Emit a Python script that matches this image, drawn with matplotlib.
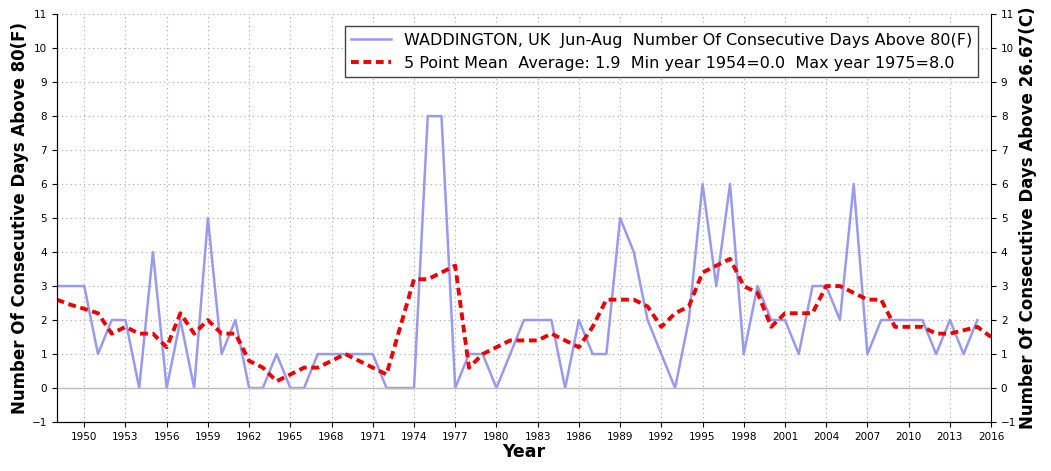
import matplotlib.pyplot as plt
import numpy as np

years = np.arange(1948, 2016)
days = [3, 3, 3, 1, 2, 2, 0, 4, 0, 2, 0, 5, 1, 2, 0, 0, 1, 0, 0, 1,
        1, 1, 1, 1, 0, 0, 0, 8, 8, 0, 1, 1, 0, 1, 2, 2, 2, 0, 2, 1,
        1, 5, 4, 2, 1, 0, 2, 6, 3, 6, 1, 3, 2, 2, 1, 3, 3, 2, 6, 1,
        2, 2, 2, 2, 1, 2, 1, 2]
mean_years = np.arange(1948, 2017)
mean5 = [2.6, 2.45, 2.33, 2.2, 1.6, 1.8, 1.6, 1.6, 1.2, 2.2, 1.6, 2.0, 1.6, 1.6, 0.8, 0.6, 0.2, 0.4, 0.6, 0.6,
         0.8, 1.0, 0.8, 0.6, 0.4, 1.8, 3.2, 3.2, 3.4, 3.6, 0.6, 1.0, 1.2, 1.4, 1.4, 1.4, 1.6, 1.4, 1.2, 1.8,
         2.6, 2.6, 2.6, 2.4, 1.8, 2.2, 2.4, 3.4, 3.6, 3.8, 3.0, 2.8, 1.8, 2.2, 2.2, 2.2, 3.0, 3.0, 2.8, 2.6,
         2.6, 1.8, 1.8, 1.8, 1.6, 1.6, 1.7, 1.8, 1.5]

fig, ax = plt.subplots(figsize=(10.51, 4.71), dpi=100)
fig.subplots_adjust(left=0.054, right=0.943, top=0.97, bottom=0.104)

ax.plot(years, days, color='#9999ee', lw=1.8,
        label='WADDINGTON, UK  Jun-Aug  Number Of Consecutive Days Above 80(F)')
ax.plot(mean_years, mean5, color='#ee0000', lw=2.8, ls=(0, (2, 1.2)),
        label='5 Point Mean  Average: 1.9  Min year 1954=0.0  Max year 1975=8.0')
ax.axhline(0, color='#bbbbbb', lw=1)

ax.set_xlim(1948, 2016)
ax.set_ylim(-1, 11)
ax.set_xticks(np.arange(1950, 2017, 3))
ax.set_yticks(np.arange(-1, 12))
ax.tick_params(labelsize=7.5)
ax.grid(True, ls=(0, (1, 3)), color='#aaaaaa', lw=0.8)
for s in ['top', 'right']:
    ax.spines[s].set_visible(False)

ax2 = ax.twinx()
ax2.set_ylim(-1, 11)
ax2.set_yticks(np.arange(-1, 12))
ax2.tick_params(labelsize=7.5)
ax2.spines['top'].set_visible(False)

ax.set_xlabel('Year', fontsize=12.5, fontweight='bold', labelpad=1)
ax.set_ylabel('Number Of Consecutive Days Above 80(F)', fontsize=12, fontweight='bold', labelpad=2)
ax2.set_ylabel('Number Of Consecutive Days Above 26.67(C)', fontsize=12, fontweight='bold', labelpad=2)

ax.legend(loc='upper right', fontsize=11.5, fancybox=False, framealpha=1,
          edgecolor='#444444', handlelength=2.5, bbox_to_anchor=(0.995, 0.99))

fig.savefig('out.png')
